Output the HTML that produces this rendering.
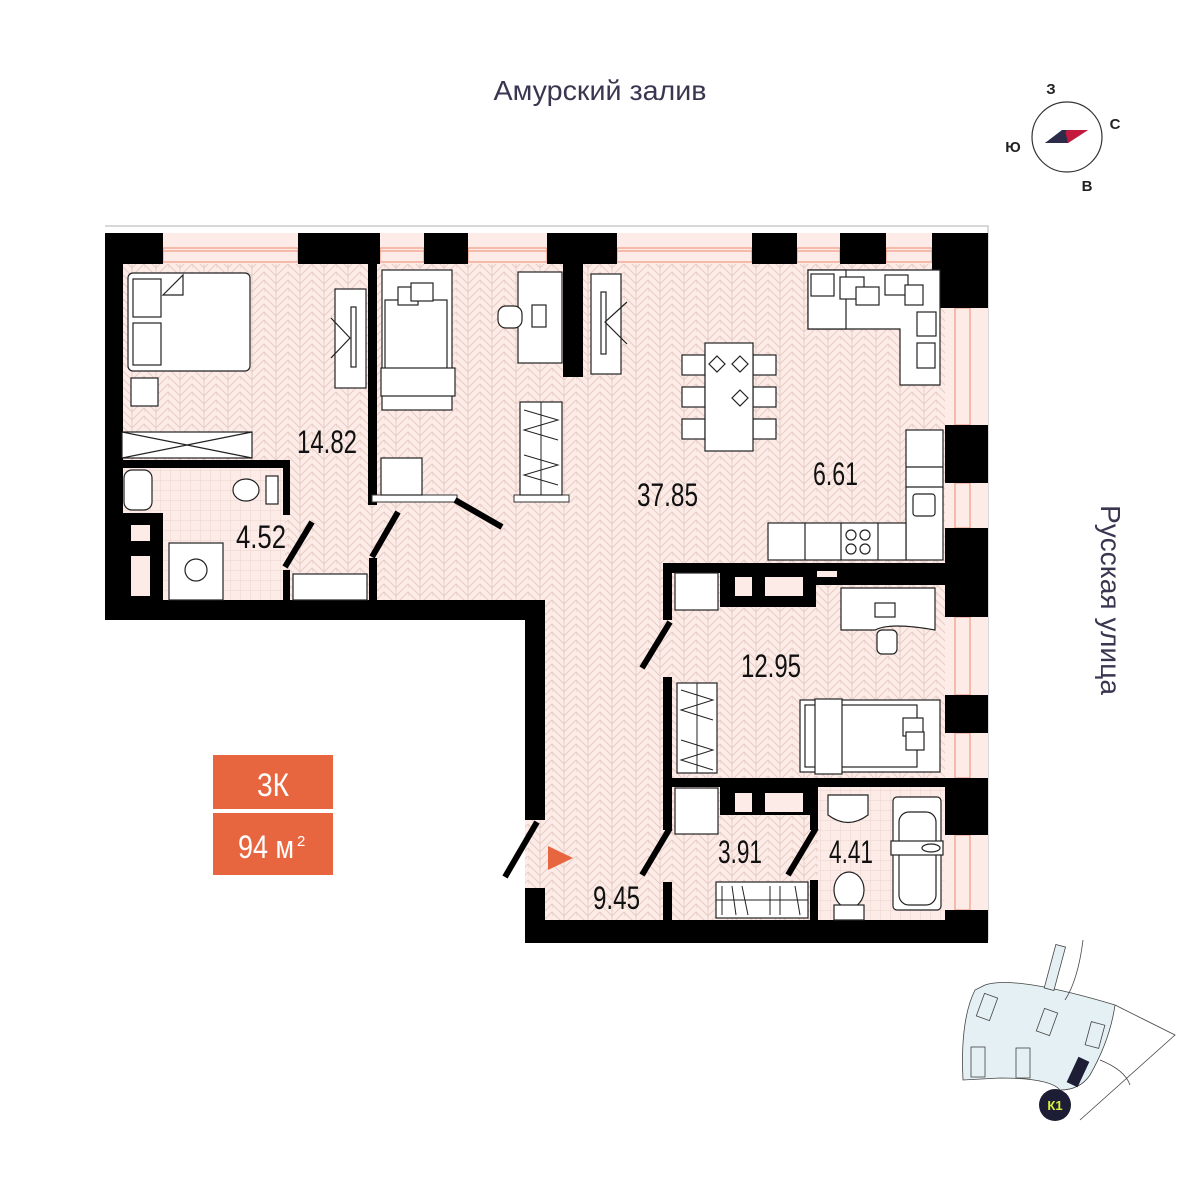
<!DOCTYPE html>
<html><head><meta charset="utf-8"><style>
html,body{margin:0;padding:0;background:#fff;}
svg{display:block;}
.n{font-family:"Liberation Sans Narrow","Liberation Sans",sans-serif;font-size:32px;fill:#111;}
</style></head><body>
<svg width="1200" height="1200" viewBox="0 0 1200 1200" xmlns="http://www.w3.org/2000/svg">
<defs>
<pattern id="hb" width="24" height="8" patternUnits="userSpaceOnUse">
<rect width="24" height="8" fill="#fcebe6"/>
<path d="M0,-8 L12,4 L24,-8 M0,0 L12,12 L24,0 M0,8 L12,20 L24,8 M0,-4 L0,4 M12,0 L12,8" stroke="#e4cbc4" stroke-width="0.9" fill="none"/>
</pattern>
<pattern id="tile" width="10" height="10" patternUnits="userSpaceOnUse">
<rect width="10" height="10" fill="#fcebe6"/>
<path d="M0,0 H10 M0,0 V10" stroke="#e8cfc8" stroke-width="0.8"/>
</pattern>
</defs>

<text x="600" y="100" text-anchor="middle" font-family="Liberation Sans,sans-serif" font-size="28" fill="#3a3650" textLength="213" lengthAdjust="spacingAndGlyphs">Амурский залив</text>
<text transform="translate(1101,600) rotate(90)" text-anchor="middle" font-family="Liberation Sans,sans-serif" font-size="28" fill="#3a3650" textLength="190" lengthAdjust="spacingAndGlyphs">Русская улица</text>

<!-- compass -->
<circle cx="1067" cy="137" r="35" fill="none" stroke="#333" stroke-width="1.2"/>
<polygon points="1045,143 1065,130 1088,130 1068,143" fill="#2c2c4a"/>
<polygon points="1065,130 1088,130 1068,143" fill="#c4183c"/>
<polygon points="1062,130 1067,130 1059,143 1045,143" fill="#2c2c4a"/>
<g font-family="Liberation Sans,sans-serif" font-size="15" font-weight="bold" fill="#222" text-anchor="middle">
<text x="1051" y="94">З</text><text x="1115" y="129">С</text><text x="1087" y="191">В</text><text x="1013" y="152">Ю</text>
</g>

<path d="M105,226 H988 V940" stroke="#ccc" stroke-width="1.5" fill="none"/>

<path d="M105,233 H988 V943 H525 V620 H105 Z" fill="url(#hb)"/>
<rect x="120" y="467" width="165" height="133" fill="url(#tile)"/>
<rect x="818" y="787" width="127" height="133" fill="url(#tile)"/>
<rect x="105" y="233" width="883" height="31" fill="#fcebe6"/>
<rect x="945" y="233" width="43" height="710" fill="#fcebe6"/>
<g stroke="#f08a6e" stroke-width="1" fill="none">
<rect x="163" y="248" width="135" height="14"/><line x1="163" y1="251" x2="298" y2="251"/>
<rect x="380" y="248" width="44" height="14"/><line x1="380" y1="251" x2="424" y2="251"/>
<rect x="468" y="248" width="79" height="14"/><line x1="468" y1="251" x2="547" y2="251"/>
<rect x="617" y="248" width="135" height="14"/><line x1="617" y1="251" x2="752" y2="251"/>
<rect x="797" y="248" width="43" height="14"/><line x1="797" y1="251" x2="840" y2="251"/>
<rect x="886" y="248" width="46" height="14"/><line x1="886" y1="251" x2="932" y2="251"/>
<rect x="955" y="308" width="15" height="117"/><rect x="955" y="483" width="15" height="45"/>
<rect x="955" y="617" width="15" height="78"/><rect x="955" y="733" width="15" height="45"/>
<rect x="955" y="835" width="15" height="75"/>
</g>

<g fill="#000">
<rect x="105" y="233" width="58" height="31"/>
<rect x="298" y="233" width="82" height="31"/>
<rect x="424" y="233" width="44" height="31"/>
<rect x="547" y="233" width="70" height="31"/>
<rect x="752" y="233" width="45" height="31"/>
<rect x="840" y="233" width="46" height="31"/>
<rect x="932" y="233" width="56" height="75"/>
<rect x="105" y="233" width="18" height="387"/>
<rect x="105" y="600" width="440" height="20"/>
<rect x="525" y="600" width="20" height="220"/>
<rect x="525" y="888" width="20" height="55"/>
<rect x="525" y="920" width="463" height="23"/>
<rect x="945" y="425" width="43" height="58"/>
<rect x="945" y="528" width="43" height="89"/>
<rect x="945" y="695" width="43" height="38"/>
<rect x="945" y="778" width="43" height="57"/>
<rect x="945" y="910" width="43" height="33"/>
<rect x="368" y="264" width="9" height="241"/>
<rect x="563" y="264" width="20" height="113"/>
<rect x="120" y="460" width="170" height="8"/>
<rect x="283" y="460" width="7" height="55"/>
<rect x="283" y="570" width="7" height="30"/>
<rect x="369" y="558" width="8" height="42"/>
<rect x="120" y="513" width="43" height="87"/>
<rect x="663" y="563" width="282" height="10"/>
<rect x="663" y="563" width="9" height="57"/>
<rect x="720" y="563" width="96" height="44"/>
<rect x="816" y="563" width="129" height="22"/>
<rect x="663" y="677" width="9" height="110"/>
<rect x="663" y="778" width="282" height="9"/>
<rect x="720" y="778" width="96" height="37"/>
<rect x="810" y="778" width="8" height="52"/>
<rect x="810" y="880" width="8" height="40"/>
<rect x="663" y="787" width="9" height="43"/>
<rect x="663" y="882" width="9" height="38"/>
</g>
<g fill="#fcebe6">
<rect x="131" y="525" width="19" height="16"/><rect x="131" y="556" width="19" height="40"/>
<rect x="735" y="577" width="17" height="19"/><rect x="765" y="577" width="38" height="19"/>
<rect x="735" y="793" width="17" height="19"/><rect x="765" y="793" width="38" height="19"/>
<rect x="817" y="571" width="20" height="6"/>
</g>
<rect x="372" y="495" width="85" height="7" fill="#fff" stroke="#333"/>
<rect x="514" y="495" width="55" height="7" fill="#fff" stroke="#333"/>

<g stroke="#000" stroke-width="6" stroke-linecap="butt">
<line x1="285" y1="567" x2="312" y2="522"/>
<line x1="372" y1="557" x2="398" y2="512"/>
<line x1="455" y1="500" x2="502" y2="527"/>
<line x1="642" y1="668" x2="670" y2="622"/>
<line x1="505" y1="877" x2="537" y2="822"/>
<line x1="642" y1="875" x2="670" y2="828"/>
<line x1="788" y1="875" x2="816" y2="828"/>
</g>
<polygon points="548,846 573,858 548,870" fill="#e8663f"/>

<g fill="#fff" stroke="#222" stroke-width="1.2">
<rect x="128" y="273" width="122" height="98" rx="5"/>
<rect x="133" y="279" width="28" height="38"/><rect x="133" y="323" width="28" height="42"/>
<path d="M163,295 L183,275 L183,295 Z"/>
<rect x="131" y="378" width="27" height="28"/>
<rect x="122" y="432" width="130" height="26"/>
<path d="M122,432 L252,458 M122,458 L252,432" fill="none"/>
<rect x="335" y="289" width="31" height="99"/>
<rect x="351" y="307" width="5" height="60"/>
<path d="M331,318 L350,338 L331,358" fill="none"/>
<rect x="382" y="270" width="70" height="140"/>
<rect x="385" y="300" width="62" height="80"/>
<rect x="398" y="287" width="20" height="18"/><rect x="411" y="283" width="22" height="18"/>
<rect x="381" y="368" width="74" height="28"/>
<rect x="518" y="272" width="44" height="91"/>
<rect x="532" y="305" width="14" height="22"/>
<rect x="498" y="306" width="24" height="22" rx="8"/>
<rect x="520" y="402" width="42" height="93"/>
<path d="M541,402 V495 M524,410 L558,420 L524,430 L558,440 M524,455 L558,465 L524,475 L558,485" fill="none" stroke-width="1"/>
<rect x="381" y="458" width="41" height="37"/>
<rect x="124" y="470" width="28" height="40" rx="8"/>
<ellipse cx="246" cy="490" rx="13" ry="11"/><rect x="266" y="476" width="12" height="28"/>
<rect x="169" y="543" width="54" height="57"/><circle cx="196" cy="570" r="11"/>
<rect x="293" y="574" width="74" height="26"/>
<rect x="591" y="274" width="30" height="100"/>
<rect x="601" y="292" width="5" height="62"/>
<path d="M627,302 L605,322 L627,344" fill="none"/>
<rect x="682" y="355" width="23" height="20"/><rect x="682" y="387" width="23" height="20"/><rect x="682" y="419" width="23" height="20"/>
<rect x="753" y="355" width="23" height="20"/><rect x="753" y="387" width="23" height="20"/><rect x="753" y="419" width="23" height="20"/>
<rect x="705" y="343" width="48" height="108"/>
<path d="M717,356 L725,364 L717,372 L709,364 Z M740,356 L748,364 L740,372 L732,364 Z M740,390 L748,398 L740,406 L732,398 Z"/>
<path d="M808,270 H940 V385 H900 V329 H808 Z"/>
<path d="M808,270 H846 V329 H808 Z"/>
<rect x="811" y="274" width="23" height="22"/><rect x="840" y="277" width="24" height="22"/><rect x="856" y="287" width="23" height="18"/><rect x="885" y="275" width="23" height="20"/><rect x="905" y="285" width="18" height="20"/><rect x="917" y="312" width="19" height="24"/><rect x="917" y="343" width="18" height="25"/>
<rect x="906" y="430" width="37" height="130"/>
<path d="M906,467 H943 M906,487 H943" fill="none"/>
<rect x="913" y="494" width="22" height="22" rx="3"/>
<rect x="768" y="523" width="138" height="37"/>
<path d="M805,523 V560 M841,523 V560 M878,523 V560" fill="none"/>
<circle cx="851" cy="535" r="5"/><circle cx="865" cy="535" r="5"/><circle cx="851" cy="549" r="5"/><circle cx="865" cy="549" r="5"/>
<rect x="675" y="573" width="43" height="37"/>
<path d="M841,588 H935 V630 Q890,622 875,630 H841 Z"/>
<rect x="875" y="603" width="20" height="14"/>
<rect x="877" y="630" width="20" height="24" rx="5"/>
<rect x="677" y="683" width="40" height="90"/>
<path d="M697,683 V773 M681,690 L713,700 L681,710 L713,720 M681,740 L713,750 L681,760 L713,770" fill="none" stroke-width="1"/>
<rect x="800" y="700" width="140" height="72"/>
<rect x="805" y="705" width="112" height="62"/>
<rect x="903" y="718" width="20" height="18"/><rect x="906" y="732" width="18" height="18"/>
<rect x="815" y="699" width="27" height="75"/>
<rect x="675" y="788" width="43" height="46"/>
<rect x="716" y="882" width="92" height="36"/>
<path d="M716,900 H808 M722,886 V915 M732,886 L736,915 M742,886 L748,915 M770,886 V915 M780,886 V915 M795,886 L800,915" fill="none" stroke-width="1"/>
<path d="M828,795 H868 V815 Q848,830 828,815 Z"/>
<ellipse cx="849" cy="890" rx="15" ry="18"/><rect x="834" y="905" width="30" height="15"/>
<rect x="893" y="797" width="48" height="113" rx="4"/>
<rect x="899" y="812" width="37" height="93" rx="10"/>
<rect x="891" y="841" width="52" height="14"/>
<ellipse cx="931" cy="848" rx="9" ry="4"/>
</g>

<g class="n">
<text class="n" x="297" y="453" textLength="60" lengthAdjust="spacingAndGlyphs">14.82</text>
<text class="n" x="236" y="548" textLength="50" lengthAdjust="spacingAndGlyphs">4.52</text>
<text class="n" x="637" y="506" textLength="61" lengthAdjust="spacingAndGlyphs">37.85</text>
<text class="n" x="813" y="485" textLength="45" lengthAdjust="spacingAndGlyphs">6.61</text>
<text class="n" x="741" y="677" textLength="60" lengthAdjust="spacingAndGlyphs">12.95</text>
<text class="n" x="718" y="863" textLength="44" lengthAdjust="spacingAndGlyphs">3.91</text>
<text class="n" x="829" y="863" textLength="44" lengthAdjust="spacingAndGlyphs">4.41</text>
<text class="n" x="593" y="909" textLength="47" lengthAdjust="spacingAndGlyphs">9.45</text>
</g>

<rect x="213" y="755" width="120" height="54" fill="#e8663f"/>
<rect x="213" y="813" width="120" height="62" fill="#e8663f"/>
<text x="257" y="796" font-family="Liberation Sans Narrow,Liberation Sans,sans-serif" font-size="32" fill="#fff" textLength="32" lengthAdjust="spacingAndGlyphs">3К</text>
<text x="238" y="858" font-family="Liberation Sans Narrow,Liberation Sans,sans-serif" font-size="32" fill="#fff" textLength="56" lengthAdjust="spacingAndGlyphs">94 м</text>
<text x="297" y="846" font-family="Liberation Sans,sans-serif" font-size="15" fill="#fff">2</text>

<g stroke="#444" stroke-width="0.8" fill="none">
<path d="M985,985 Q1015,975 1115,1005 Q1110,1040 1090,1075 Q1080,1090 1060,1090 Q1050,1078 1000,1078 L963,1080 Q960,1020 975,990 Z" fill="#e4f0f3"/>
<path d="M1115,1005 L1175,1035 L1080,1120"/>
<path d="M1100,1060 Q1125,1070 1130,1085"/>
<path d="M1083,940 Q1078,980 1065,1000"/>
<rect x="1050" y="945" width="10" height="45" transform="rotate(15 1055 967)" fill="#e4f0f3"/>
<rect x="980" y="995" width="14" height="24" transform="rotate(20 987 1007)" fill="#e4f0f3"/>
<rect x="1040" y="1010" width="14" height="24" transform="rotate(20 1047 1022)" fill="#e4f0f3"/>
<rect x="1088" y="1023" width="14" height="24" transform="rotate(15 1095 1035)" fill="#e4f0f3"/>
<rect x="971" y="1047" width="14" height="30" fill="#e4f0f3"/>
<rect x="1016" y="1048" width="14" height="30" fill="#e4f0f3"/>
</g>
<rect x="1072" y="1058" width="12" height="28" transform="rotate(25 1078 1072)" fill="#1d1d35"/>
<circle cx="1055" cy="1105" r="16" fill="#1d1d35"/>
<text x="1055" y="1110" text-anchor="middle" font-family="Liberation Sans,sans-serif" font-weight="bold" font-size="13" fill="#d8f03a">К1</text>
</svg>
</body></html>
